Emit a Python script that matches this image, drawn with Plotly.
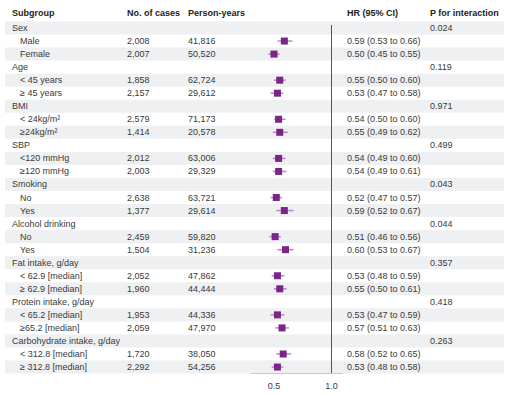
import plotly.graph_objects as go

# ---------------- data ----------------
groups = ["Sex", "Age", "BMI", "SBP", "Smoking", "Alcohol drinking",
          "Fat intake, g/day", "Protein intake, g/day", "Carbohydrate intake, g/day"]
p_interaction = ["0.024", "0.119", "0.971", "0.499", "0.043", "0.044", "0.357", "0.418", "0.263"]
sub_labels = [
    ["Male", "Female"],
    ["< 45 years", "\u2265 45 years"],
    ["< 24kg/m\u00b2", "\u226524kg/m\u00b2"],
    ["<120 mmHg", "\u2265120 mmHg"],
    ["No", "Yes"],
    ["No", "Yes"],
    ["< 62.9 [median]", "\u2265 62.9 [median]"],
    ["< 65.2 [median]", "\u226565.2 [median]"],
    ["< 312.8 [median]", "\u2265 312.8 [median]"],
]
cases = [["2,008", "2,007"], ["1,858", "2,157"], ["2,579", "1,414"], ["2,012", "2,003"],
         ["2,638", "1,377"], ["2,459", "1,504"], ["2,052", "1,960"], ["1,953", "2,059"],
         ["1,720", "2,292"]]
person_years = [["41,816", "50,520"], ["62,724", "29,612"], ["71,173", "20,578"],
                ["63,006", "29,329"], ["63,721", "29,614"], ["59,820", "31,236"],
                ["47,862", "44,444"], ["44,336", "47,970"], ["38,050", "54,256"]]
hr = [[0.59, 0.50], [0.55, 0.53], [0.54, 0.55], [0.54, 0.54], [0.52, 0.59],
      [0.51, 0.60], [0.53, 0.55], [0.53, 0.57], [0.58, 0.53]]
ci_lo = [[0.53, 0.45], [0.50, 0.47], [0.50, 0.49], [0.49, 0.49], [0.47, 0.52],
         [0.46, 0.53], [0.48, 0.50], [0.47, 0.51], [0.52, 0.48]]
ci_hi = [[0.66, 0.55], [0.60, 0.58], [0.60, 0.62], [0.60, 0.61], [0.57, 0.67],
         [0.56, 0.67], [0.59, 0.61], [0.59, 0.63], [0.65, 0.58]]
headers = ["Subgroup", "No. of cases", "Person-years", "HR (95% CI)", "P for interaction"]
x_ticks = [0.5, 1.0]

# ---------------- layout geometry ----------------
W, H = 513, 396
ROW_H = 13.04
TOP = 28.0  # pixel centre of first row


def px_x(p):
    return p / W


def row_y(i):
    return -i


def pix_to_y(p):
    return (TOP - p) / ROW_H


TXT = "#3a3a3a"
FONT = "Liberation Sans, Arial, sans-serif"
FS = 9

annotations = []
shapes = []


def add_text(x_px, y, text, bold=False, color=TXT):
    annotations.append(dict(
        x=px_x(x_px), y=y, xref="paper", yref="y", text=("<b>%s</b>" % text) if bold else text,
        showarrow=False, xanchor="left", yanchor="middle", borderpad=0,
        font=dict(family=FONT, size=FS, color="#222222" if bold else color)))


col_x = [11, 126, 187, 346, 429]
for hx, h in zip(col_x, headers):
    add_text(hx, pix_to_y(13), h, bold=True)

pts_x, pts_y, err_p, err_m = [], [], [], []
row = 0
for g in range(len(groups)):
    add_text(11, row_y(row), groups[g])
    add_text(429, row_y(row), p_interaction[g])
    row += 1
    for k in range(2):
        add_text(19, row_y(row), sub_labels[g][k])
        add_text(126, row_y(row), cases[g][k])
        add_text(187, row_y(row), person_years[g][k])
        add_text(346, row_y(row), "%.2f (%.2f to %.2f)" % (hr[g][k], ci_lo[g][k], ci_hi[g][k]))
        pts_x.append(hr[g][k])
        pts_y.append(row_y(row))
        err_p.append(ci_hi[g][k] - hr[g][k])
        err_m.append(hr[g][k] - ci_lo[g][k])
        row += 1
n_rows = row

for i in range(0, n_rows, 2):
    shapes.append(dict(type="rect", xref="paper", yref="y", x0=px_x(5), x1=px_x(504),
                       y0=row_y(i) - 0.5, y1=row_y(i) + 0.5, fillcolor="#eef0f2",
                       line=dict(width=0), layer="below"))

# reference line at HR = 1
shapes.append(dict(type="line", xref="x", yref="y", x0=1.0, x1=1.0,
                   y0=pix_to_y(25), y1=pix_to_y(373), line=dict(color="#555555", width=1)))

fig = go.Figure()
fig.add_trace(go.Scatter(
    x=pts_x, y=pts_y, mode="markers",
    marker=dict(symbol="square", size=7, color="#7b2586"),
    error_x=dict(type="data", symmetric=False, array=err_p, arrayminus=err_m,
                 color="#b48cc2", thickness=1.5, width=0),
    hoverinfo="skip", showlegend=False))

fig.update_layout(
    width=W, height=H, margin=dict(l=0, r=0, t=0, b=0),
    paper_bgcolor="white", plot_bgcolor="rgba(0,0,0,0)",
    annotations=annotations, shapes=shapes,
    xaxis=dict(domain=[px_x(251), px_x(343)], range=[0.3, 1.1], anchor="free",
               position=1 - 373 / H, showline=True, linecolor="#c8c8c8", linewidth=1,
               showgrid=False, zeroline=False, tickvals=x_ticks, ticktext=["0.5", "1.0"],
               ticks="outside", ticklen=4, tickcolor="rgba(0,0,0,0)",
               tickfont=dict(family=FONT, size=FS, color=TXT), fixedrange=True),
    yaxis=dict(range=[-(H - TOP) / ROW_H, TOP / ROW_H], visible=False, fixedrange=True),
)

fig.write_html("out.html", config={"displayModeBar": False},
               post_script="document.body.style.margin='0';document.body.style.overflow='hidden';")
